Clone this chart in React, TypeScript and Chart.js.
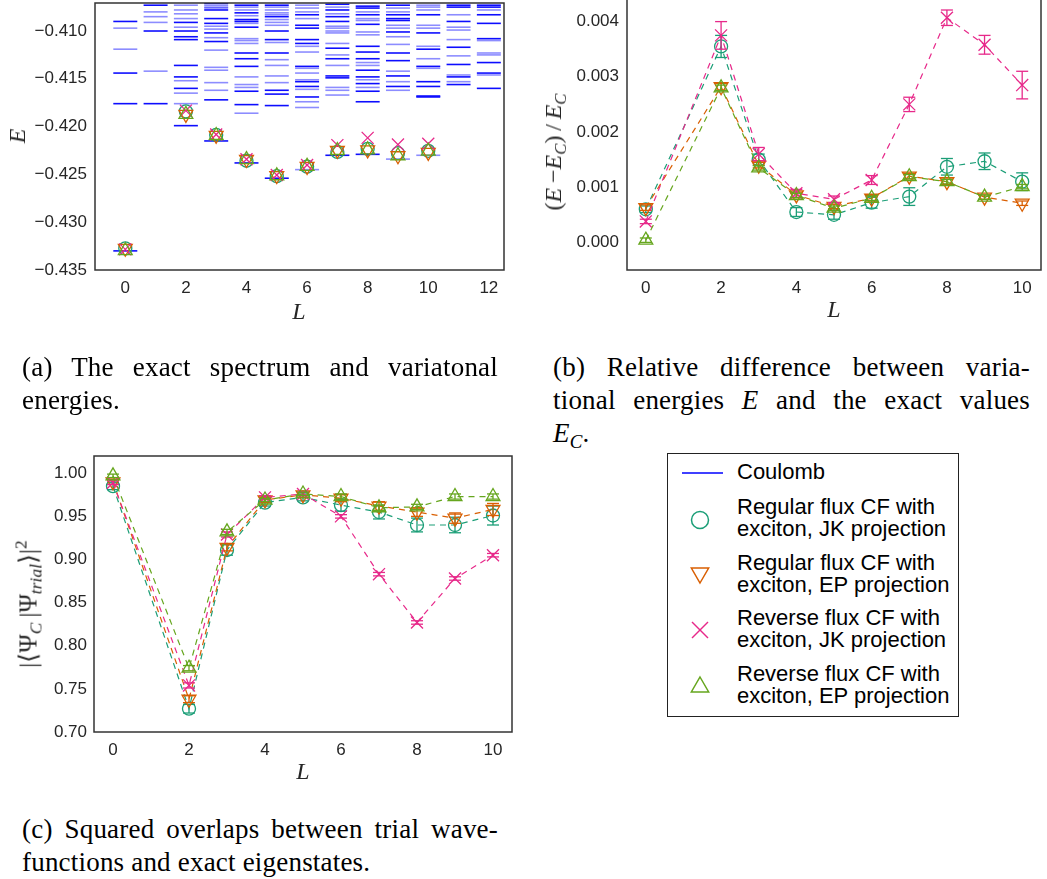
import React, { useEffect, useRef } from "react";
import { Chart, registerables } from "chart.js";

Chart.register(...registerables);

// ---- data -----------------------------------------------------------------

// Angular momenta for which trial states were computed
const L_TRIAL = [0, 2, 3, 4, 5, 6, 7, 8, 9, 10];

// Exact Coulomb spectrum, one list of levels per L = 0..12 (dark = strong lines)
const COULOMB_DARK: number[][] = [
  [-0.409, -0.4144, -0.4176, -0.433],
  [-0.4073, -0.41, -0.4176],
  [-0.4091, -0.41, -0.4106, -0.4109, -0.4136, -0.4148, -0.416, -0.4199],
  [-0.4071, -0.4078, -0.4087, -0.4092, -0.4102, -0.4111, -0.4172, -0.4215],
  [-0.4073, -0.4081, -0.4088, -0.409, -0.4096, -0.4123, -0.4129, -0.4137, -0.4163, -0.4177, -0.4238],
  [-0.4073, -0.4085, -0.41, -0.4109, -0.4123, -0.4162, -0.4166, -0.4178, -0.4254],
  [-0.4083, -0.4094, -0.4097, -0.4109, -0.4113, -0.4137, -0.4153, -0.4158, -0.4169],
  [-0.4072, -0.4078, -0.4085, -0.409, -0.4118, -0.4129, -0.4147, -0.4149, -0.423],
  [-0.4074, -0.4076, -0.4083, -0.4093, -0.4116, -0.4122, -0.4129, -0.4141, -0.4148, -0.4155, -0.4163, -0.4174, -0.4229],
  [-0.4073, -0.4083, -0.4087, -0.4089, -0.4101, -0.4123, -0.4131, -0.4147, -0.4158],
  [-0.4083, -0.4102, -0.4119, -0.4137, -0.4153, -0.4158, -0.4168, -0.4169],
  [-0.4073, -0.4075, -0.409, -0.4117, -0.4135, -0.4148, -0.4156],
  [-0.4073, -0.4075, -0.4083, -0.4092, -0.4108, -0.4133, -0.4144, -0.416],
];
const COULOMB_FAINT: number[][] = [
  [-0.4097, -0.4119],
  [-0.408, -0.4085, -0.4091, -0.4142],
  [-0.4073, -0.4078, -0.4082, -0.4087, -0.4096, -0.4152, -0.4165, -0.4176],
  [-0.4073, -0.4075, -0.4076, -0.4095, -0.4098, -0.4107, -0.412, -0.4138, -0.4141, -0.4154, -0.4162],
  [-0.4075, -0.4078, -0.4084, -0.4092, -0.4108, -0.411, -0.4113, -0.4148, -0.4156, -0.4159, -0.4186],
  [-0.4075, -0.4078, -0.4081, -0.4083, -0.4088, -0.4091, -0.4094, -0.4112, -0.413, -0.4136, -0.4147, -0.4154],
  [-0.4073, -0.4076, -0.408, -0.4087, -0.4116, -0.4122, -0.4139, -0.4144, -0.4151, -0.4161, -0.4174, -0.418, -0.4245],
  [-0.4075, -0.4082, -0.4095, -0.4097, -0.41, -0.4102, -0.4113, -0.4125, -0.4136, -0.4159, -0.4162, -0.4167],
  [-0.408, -0.4087, -0.4089, -0.4101, -0.4104, -0.4133, -0.4136, -0.4151, -0.4159],
  [-0.4076, -0.408, -0.4094, -0.4097, -0.4106, -0.4114, -0.4142, -0.4153, -0.4162, -0.4234],
  [-0.4073, -0.4075, -0.4078, -0.4094, -0.4097, -0.4116, -0.4129, -0.4139, -0.423],
  [-0.4083, -0.4096, -0.4099, -0.4109, -0.4126, -0.4146, -0.4153],
  [-0.4078, -0.411, -0.4123, -0.4125, -0.4146],
];

// Variational energies E
const E_REG_JK = [-0.43274, -0.41841, -0.42087, -0.42357, -0.42519, -0.42419, -0.42265, -0.42232, -0.42278, -0.42253];
const E_REG_EP = [-0.43273, -0.41872, -0.42091, -0.42344, -0.42512, -0.42416, -0.42249, -0.42243, -0.42305, -0.4227];
const E_REV_JK = [-0.43284, -0.41833, -0.42083, -0.42342, -0.42507, -0.42402, -0.42194, -0.42118, -0.42188, -0.42179];
const E_REV_EP = [-0.43298, -0.41872, -0.42093, -0.42344, -0.42514, -0.42416, -0.4225, -0.42243, -0.42305, -0.42257];

// Relative difference (E - E_C)/E_C and its uncertainty
const REL_REG_JK = [0.0006, 0.00355, 0.0015, 0.00055, 0.0005, 0.00072, 0.00083, 0.00137, 0.00147, 0.0011];
const REL_REG_JK_ERR = [0.00006, 0.0002, 0.0001, 0.00008, 0.00008, 0.0001, 0.00016, 0.00015, 0.00015, 0.00016];
const REL_REG_EP = [0.00063, 0.00282, 0.0014, 0.00086, 0.00065, 0.0008, 0.0012, 0.0011, 0.00082, 0.00071];
const REL_REG_EP_ERR = [0.00005, 0.00006, 0.00005, 0.00005, 0.00004, 0.00005, 0.00005, 0.00005, 0.00004, 0.00004];
const REL_REV_JK = [0.00038, 0.00375, 0.0016, 0.00089, 0.00078, 0.00113, 0.0025, 0.00407, 0.00358, 0.00285];
const REL_REV_JK_ERR = [0.00004, 0.00025, 0.00012, 0.00007, 0.00006, 0.00008, 0.00013, 0.00014, 0.00017, 0.00025];
const REL_REV_EP = [0.00004, 0.0028, 0.00135, 0.00085, 0.00062, 0.0008, 0.00119, 0.0011, 0.00082, 0.00101];
const REL_REV_EP_ERR = [0.00004, 0.00005, 0.00004, 0.00004, 0.00004, 0.00004, 0.00004, 0.00004, 0.00004, 0.00004];

// Squared overlaps |<Psi_C|Psi_trial>|^2 and their uncertainty
const OVL_REG_JK = [0.985, 0.727, 0.911, 0.966, 0.972, 0.963, 0.955, 0.94, 0.94, 0.951];
const OVL_REG_JK_ERR = [0.004, 0.005, 0.006, 0.004, 0.004, 0.007, 0.008, 0.008, 0.009, 0.011];
const OVL_REG_EP = [0.99, 0.738, 0.914, 0.969, 0.975, 0.971, 0.962, 0.955, 0.948, 0.958];
const OVL_REG_EP_ERR = [0.003, 0.004, 0.004, 0.003, 0.003, 0.004, 0.005, 0.005, 0.006, 0.007];
const OVL_REV_JK = [0.989, 0.754, 0.929, 0.972, 0.976, 0.95, 0.883, 0.827, 0.878, 0.905];
const OVL_REV_JK_ERR = [0.002, 0.003, 0.003, 0.002, 0.002, 0.002, 0.002, 0.002, 0.002, 0.002];
const OVL_REV_EP = [0.997, 0.774, 0.932, 0.969, 0.976, 0.973, 0.96, 0.961, 0.973, 0.973];
const OVL_REV_EP_ERR = [0.002, 0.003, 0.003, 0.002, 0.002, 0.003, 0.003, 0.003, 0.003, 0.003];

// Tick positions
const X_TICKS_A = [0, 2, 4, 6, 8, 10, 12];
const Y_TICKS_A = [-0.435, -0.43, -0.425, -0.42, -0.415, -0.41];
const X_TICKS_BC = [0, 2, 4, 6, 8, 10];
const Y_TICKS_B = [0, 0.001, 0.002, 0.003, 0.004];
const Y_TICKS_C = [0.7, 0.75, 0.8, 0.85, 0.9, 0.95, 1.0];

// ---- styling ----------------------------------------------------------------

const SANS = '"Liberation Sans", Arial, sans-serif';
const SERIF = '"Liberation Serif", "Times New Roman", serif';
const AXIS_TEXT = "#262626";

type SeriesStyle = { color: string; style: string; rotation: number; radius: number; order: number };
const REG_JK: SeriesStyle = { color: "#1b9e77", style: "circle", rotation: 0, radius: 6.5, order: 4 };
const REG_EP: SeriesStyle = { color: "#d95f02", style: "triangle", rotation: 180, radius: 8, order: 3 };
const REV_JK: SeriesStyle = { color: "#e7298a", style: "crossRot", rotation: 0, radius: 8.5, order: 2 };
const REV_EP: SeriesStyle = { color: "#66a61e", style: "triangle", rotation: 0, radius: 8, order: 1 };

// ---- chart helpers ------------------------------------------------------------

const framePlugin = {
  id: "frame",
  afterDatasetsDraw(chart: any) {
    const { ctx, chartArea } = chart;
    ctx.save();
    ctx.strokeStyle = "#333333";
    ctx.lineWidth = 1.5;
    ctx.strokeRect(chartArea.left, chartArea.top, chartArea.right - chartArea.left, chartArea.bottom - chartArea.top);
    ctx.restore();
  },
};

function axis(p: { min: number; max: number; ticks: number[]; size: number; vertical: boolean; pad: number; fmt: (v: number) => string }) {
  return {
    type: "linear" as const,
    min: p.min,
    max: p.max,
    afterBuildTicks: (s: any) => {
      s.ticks = p.ticks.map((value) => ({ value }));
    },
    afterFit: (s: any) => {
      if (p.vertical) {
        s.width = p.size;
        s.paddingTop = 0;
        s.paddingBottom = 0;
      } else {
        s.height = p.size;
        s.paddingLeft = 0;
        s.paddingRight = 0;
      }
    },
    grid: { display: false, drawTicks: false },
    border: { display: false },
    ticks: {
      padding: p.pad,
      autoSkip: false,
      maxRotation: 0,
      minRotation: 0,
      color: AXIS_TEXT,
      font: { family: SANS, size: 17 },
      callback: (v: any) => p.fmt(Number(v)),
    },
  };
}

function markerSet(s: SeriesStyle, ys: number[], line: boolean) {
  return {
    data: L_TRIAL.map((x, i) => ({ x, y: ys[i] })),
    showLine: line,
    borderColor: s.color,
    borderWidth: 1.2,
    borderDash: [6, 5],
    pointStyle: s.style,
    pointRotation: s.rotation,
    pointRadius: s.radius,
    pointBorderColor: s.color,
    pointBackgroundColor: "rgba(0,0,0,0)",
    pointBorderWidth: 1.3,
    order: s.order,
  };
}

function errorSets(s: SeriesStyle, ys: number[], es: number[]) {
  const stems: { x: number; y: number | null }[] = [];
  const caps: { x: number; y: number }[] = [];
  L_TRIAL.forEach((x, i) => {
    stems.push({ x, y: ys[i] - es[i] }, { x, y: ys[i] + es[i] }, { x, y: null });
    caps.push({ x, y: ys[i] - es[i] }, { x, y: ys[i] + es[i] });
  });
  return [
    { data: stems, showLine: true, spanGaps: false, borderColor: s.color, borderWidth: 1.3, pointRadius: 0, order: s.order },
    {
      data: caps,
      showLine: false,
      pointStyle: "line",
      pointRadius: 6,
      pointBorderColor: s.color,
      pointBorderWidth: 1.3,
      order: s.order,
    },
  ];
}

function levelSet(levels: number[][], color: string) {
  const pts: { x: number; y: number }[] = [];
  levels.forEach((list, L) => list.forEach((y) => pts.push({ x: L, y })));
  return {
    data: pts,
    showLine: false,
    pointStyle: "line",
    pointRadius: 12,
    pointBorderColor: color,
    pointBorderWidth: 1.6,
    order: 10,
  };
}

function makeConfig(datasets: any[], pad: any, x: any, y: any) {
  return {
    type: "scatter" as const,
    data: { datasets },
    options: {
      responsive: false,
      animation: false as const,
      events: [] as any[],
      layout: { padding: pad, autoPadding: false },
      plugins: { legend: { display: false }, tooltip: { enabled: false } },
      scales: { x, y },
    },
    plugins: [framePlugin],
  };
}

const fmtInt = (v: number) => String(Math.round(v));
const fmtSigned3 = (v: number) => (v < -1e-9 ? "\u2212" : "") + Math.abs(v).toFixed(3);
const fmt3 = (v: number) => Math.abs(v).toFixed(3);
const fmt2 = (v: number) => v.toFixed(2);

function ChartCanvas({ left, top, width, height, config }: any) {
  const ref = useRef<HTMLCanvasElement>(null);
  useEffect(() => {
    const chart = new Chart(ref.current as HTMLCanvasElement, config);
    return () => chart.destroy();
  }, []);
  return (
    <canvas
      ref={ref}
      width={width}
      height={height}
      style={{ position: "absolute", left, top, width, height }}
    />
  );
}

// ---- panels -------------------------------------------------------------------

const configA = makeConfig(
  [
    levelSet(COULOMB_FAINT, "rgba(0,0,255,0.45)"),
    levelSet(COULOMB_DARK, "rgba(0,0,255,0.95)"),
    markerSet(REG_JK, E_REG_JK, false),
    markerSet(REG_EP, E_REG_EP, false),
    markerSet(REV_JK, E_REV_JK, false),
    markerSet(REV_EP, E_REV_EP, false),
  ],
  { top: 3, right: 16, left: 0, bottom: 0 },
  axis({ min: -1, max: 12.5, ticks: X_TICKS_A, size: 60, vertical: false, pad: 8, fmt: fmtInt }),
  axis({ min: -0.435, max: -0.40707, ticks: Y_TICKS_A, size: 95, vertical: true, pad: 8, fmt: fmtSigned3 })
);

const configB = makeConfig(
  [
    ...errorSets(REG_JK, REL_REG_JK, REL_REG_JK_ERR),
    ...errorSets(REG_EP, REL_REG_EP, REL_REG_EP_ERR),
    ...errorSets(REV_JK, REL_REV_JK, REL_REV_JK_ERR),
    ...errorSets(REV_EP, REL_REV_EP, REL_REV_EP_ERR),
    markerSet(REG_JK, REL_REG_JK, true),
    markerSet(REG_EP, REL_REG_EP, true),
    markerSet(REV_JK, REL_REV_JK, true),
    markerSet(REV_EP, REL_REV_EP, true),
  ],
  { top: 4, right: 6, left: 0, bottom: 0 },
  axis({ min: -0.5, max: 10.5, ticks: X_TICKS_BC, size: 60, vertical: false, pad: 8, fmt: fmtInt }),
  axis({ min: -0.0005, max: 0.0045, ticks: Y_TICKS_B, size: 97, vertical: true, pad: 8, fmt: fmt3 })
);

const configC = makeConfig(
  [
    ...errorSets(REG_JK, OVL_REG_JK, OVL_REG_JK_ERR),
    ...errorSets(REG_EP, OVL_REG_EP, OVL_REG_EP_ERR),
    ...errorSets(REV_JK, OVL_REV_JK, OVL_REV_JK_ERR),
    ...errorSets(REV_EP, OVL_REV_EP, OVL_REV_EP_ERR),
    markerSet(REG_JK, OVL_REG_JK, true),
    markerSet(REG_EP, OVL_REG_EP, true),
    markerSet(REV_JK, OVL_REV_JK, true),
    markerSet(REV_EP, OVL_REV_EP, true),
  ],
  { top: 16, right: 18, left: 0, bottom: 0 },
  axis({ min: -0.5, max: 10.5, ticks: X_TICKS_BC, size: 68, vertical: false, pad: 8, fmt: fmtInt }),
  axis({ min: 0.7, max: 1.02, ticks: Y_TICKS_C, size: 94, vertical: true, pad: 7, fmt: fmt2 })
);

// ---- text overlays ------------------------------------------------------------------

const sub: React.CSSProperties = { fontSize: "0.7em", verticalAlign: "-0.3em", lineHeight: 0 };
const sup: React.CSSProperties = { fontSize: "0.7em", verticalAlign: "0.55em", lineHeight: 0 };

function AxisLabel({ x, y, rotate, children, size = 24 }: any) {
  return (
    <div
      style={{
        position: "absolute",
        left: x,
        top: y,
        transform: `translate(-50%, -50%)${rotate ? " rotate(-90deg)" : ""}`,
        fontFamily: SERIF,
        fontSize: size,
        color: "#262626",
        whiteSpace: "nowrap",
        lineHeight: 1,
      }}
    >
      {children}
    </div>
  );
}

function CaptionLine({ x, top, width, last, children }: any) {
  return (
    <div
      style={{
        position: "absolute",
        left: x,
        top,
        width,
        fontFamily: SERIF,
        fontSize: 27,
        letterSpacing: "0.2px",
        lineHeight: "33px",
        color: "#000",
        textAlign: last ? "left" : "justify",
        textAlignLast: last ? "left" : "justify",
        whiteSpace: "nowrap",
      }}
    >
      {children}
    </div>
  );
}

function LegendText({ y, children }: any) {
  return (
    <div
      style={{
        position: "absolute",
        left: 737,
        top: y - 11,
        fontFamily: SANS,
        fontSize: 22,
        lineHeight: "22px",
        color: "#000",
        whiteSpace: "nowrap",
      }}
    >
      {children}
    </div>
  );
}

function Legend() {
  const cx = 32;
  const tri = (cy: number, r: number, down: boolean) => {
    const s = down ? -1 : 1;
    const pts = [
      [cx, cy - s * r],
      [cx + r * 0.866, cy + s * r * 0.5],
      [cx - r * 0.866, cy + s * r * 0.5],
    ];
    return pts.map((p) => p.join(",")).join(" ");
  };
  return (
    <>
      <div
        style={{
          position: "absolute",
          left: 667,
          top: 453,
          width: 290,
          height: 262,
          border: "1px solid #222",
          background: "#fff",
        }}
      >
        <svg width={290} height={262} style={{ position: "absolute", left: 0, top: 0 }}>
          <line x1={14} y1={19} x2={55} y2={19} stroke="#0000ff" strokeWidth={1.6} />
          <circle cx={cx} cy={66} r={8.5} fill="none" stroke={REG_JK.color} strokeWidth={1.5} />
          <polygon points={tri(119, 10, true)} fill="none" stroke={REG_EP.color} strokeWidth={1.5} />
          <line x1={cx - 8} y1={168} x2={cx + 8} y2={184} stroke={REV_JK.color} strokeWidth={1.5} />
          <line x1={cx - 8} y1={184} x2={cx + 8} y2={168} stroke={REV_JK.color} strokeWidth={1.5} />
          <polygon points={tri(233, 10, false)} fill="none" stroke={REV_EP.color} strokeWidth={1.5} />
        </svg>
      </div>
      <LegendText y={472}>Coulomb</LegendText>
      <LegendText y={507}>Regular flux CF with</LegendText>
      <LegendText y={529}>exciton, JK projection</LegendText>
      <LegendText y={563}>Regular flux CF with</LegendText>
      <LegendText y={585}>exciton, EP projection</LegendText>
      <LegendText y={618}>Reverse flux CF with</LegendText>
      <LegendText y={640}>exciton, JK projection</LegendText>
      <LegendText y={674}>Reverse flux CF with</LegendText>
      <LegendText y={696}>exciton, EP projection</LegendText>
    </>
  );
}

export default function App() {
  return (
    <div
      style={{
        position: "absolute",
        left: 0,
        top: 0,
        width: 1047,
        height: 879,
        overflow: "hidden",
        background: "#fff",
      }}
    >
      <ChartCanvas left={0} top={0} width={520} height={330} config={configA} />
      <ChartCanvas left={530} top={-10} width={517} height={340} config={configB} />
      <ChartCanvas left={0} top={440} width={530} height={360} config={configC} />

      {/* axis titles */}
      <AxisLabel x={299} y={311}><i>L</i></AxisLabel>
      <AxisLabel x={17} y={136} rotate><i>E</i></AxisLabel>
      <AxisLabel x={834} y={309}><i>L</i></AxisLabel>
      <AxisLabel x={553} y={152} rotate size={24}>
        (<i>E</i>&thinsp;−<i>E</i><span style={sub}><i>C</i></span>)&thinsp;/&thinsp;<i>E</i><span style={sub}><i>C</i></span>
      </AxisLabel>
      <AxisLabel x={303} y={771}><i>L</i></AxisLabel>
      <AxisLabel x={28} y={604} rotate size={25}>
        |⟨Ψ<span style={sub}><i>C</i></span>&thinsp;|Ψ<span style={sub}><i>trial</i></span>⟩|<span style={sup}>2</span>
      </AxisLabel>

      <Legend />

      {/* sub-figure captions */}
      <CaptionLine x={22} top={351} width={476}>(a) The exact spectrum and variatonal</CaptionLine>
      <CaptionLine x={22} top={384} width={476} last>energies.</CaptionLine>

      <CaptionLine x={553} top={351} width={477}>(b) Relative difference between varia-</CaptionLine>
      <CaptionLine x={553} top={384} width={477}>tional energies <i>E</i> and the exact values</CaptionLine>
      <CaptionLine x={553} top={417} width={477} last>
        <i>E</i><span style={sub}><i>C</i></span>.
      </CaptionLine>

      <CaptionLine x={22} top={813} width={476}>(c) Squared overlaps between trial wave-</CaptionLine>
      <CaptionLine x={22} top={846} width={476} last>functions and exact eigenstates.</CaptionLine>
    </div>
  );
}
